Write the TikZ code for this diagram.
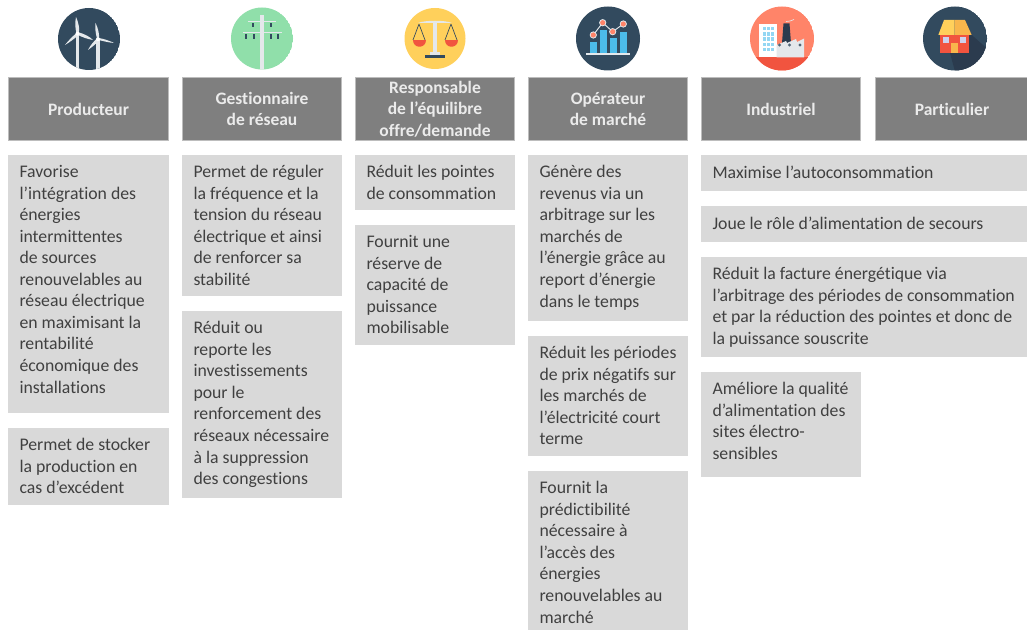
\documentclass[tikz,border=0pt]{standalone}
\usepackage{fontspec}
\setmainfont{Carlito}[Ligatures=NoCommon]
\newlength{\pxl}\setlength{\pxl}{0.75pt}
\definecolor{txt}{HTML}{404040}
\definecolor{cellbg}{HTML}{D9D9D9}
\definecolor{headbg}{HTML}{7F7F7F}
\definecolor{headln}{HTML}{BDBDBD}
\definecolor{navy}{HTML}{324A5E}
\definecolor{navyd}{HTML}{2B3B4E}
\definecolor{pale}{HTML}{E4E8EB}
\definecolor{mint}{HTML}{90DFAA}
\definecolor{sun}{HTML}{FFD05B}
\definecolor{redd}{HTML}{F1543F}
\definecolor{sal}{HTML}{FF8469}
\definecolor{skyb}{HTML}{4CBCEA}
\definecolor{amber}{HTML}{F8B64C}
\newcommand{\cellbody}[3]{\parbox[c][#2\pxl][t]{\dimexpr#1\pxl-23\pxl\relax}{\fontsize{13.3pt}{16.15pt}\selectfont\raggedright\vspace{10.5\pxl}#3}}
\tikzset{
  cellbox/.style={fill=cellbg,text=txt,anchor=north west,inner xsep=11.5\pxl,inner ysep=0pt,outer sep=0pt,draw=none},
  headbox/.style={fill=headbg,draw=headln,line width=0.7pt,text=white!92!black,anchor=north west,inner sep=0pt,outer sep=0pt,
    align=center,font=\fontsize{13.1pt}{16.15pt}\selectfont\bfseries,minimum height=63\pxl},
  pole/.style={pale,line width=2.6pt},
  blade/.style={fill=pale,draw=none},
}
\begin{document}
\begin{tikzpicture}[x=0.75pt,y=-0.75pt]
\useasboundingbox (0,0) rectangle (1027,630);
\fill[white] (0,0) rectangle (1027,630);

% ---------- headers
\node[headbox,minimum width=160\pxl] (h1) at (8.5,77.5) {Producteur};
\node[headbox,minimum width=159\pxl] (h2) at (182.5,77.5) {Gestionnaire\\de réseau};
\node[headbox,minimum width=159\pxl] (h3) at (355.5,77.5) {Responsable\\de l’équilibre\\offre/demande};
\node[headbox,minimum width=159\pxl] (h4) at (528.5,77.5) {Opérateur\\de marché};
\node[headbox,minimum width=159\pxl] (h5) at (701.5,77.5) {Industriel};
\node[headbox,minimum width=153\pxl] (h6) at (875.5,77.5) {Particulier};

% ---------- cells
\node[cellbox] (a1) at (8,155) {\cellbody{161}{258}{Favorise\\l’intégration des\\énergies\\intermittentes\\de sources\\renouvelables au\\réseau électrique\\en maximisant la\\rentabilité\\économique des\\installations}};
\node[cellbox] (a2) at (8,428) {\cellbody{161}{77}{Permet de stocker\\la production en\\cas d’excédent}};

\node[cellbox] (b1) at (182,155) {\cellbody{160}{141}{Permet de réguler\\la fréquence et la\\tension du réseau\\électrique et ainsi\\de renforcer sa\\stabilité}};
\node[cellbox] (b2) at (182,311) {\cellbody{160}{187}{Réduit ou\\reporte les\\investissements\\pour le\\renforcement des\\réseaux nécessaire\\à la suppression\\des congestions}};

\node[cellbox] (c1) at (355,155) {\cellbody{160}{55}{Réduit les pointes\\de consommation}};
\node[cellbox] (c2) at (355,225) {\cellbody{160}{120}{Fournit une\\réserve de\\capacité de\\puissance\\mobilisable}};

\node[cellbox] (d1) at (528,155) {\cellbody{160}{166}{Génère des\\revenus via un\\arbitrage sur les\\marchés de\\l’énergie grâce au\\report d’énergie\\dans le temps}};
\node[cellbox] (d2) at (528,336) {\cellbody{160}{120}{Réduit les périodes\\de prix négatifs sur\\les marchés de\\l’électricité court\\terme}};
\node[cellbox] (d3) at (528,471) {\cellbody{160}{159}{Fournit la\\prédictibilité\\nécessaire à\\l’accès des\\énergies\\renouvelables au\\marché}};

\node[cellbox] (e1) at (701,155) {\cellbody{326}{36}{Maximise l’autoconsommation}};
\node[cellbox] (e2) at (701,206) {\cellbody{326}{36}{Joue le rôle d’alimentation de secours}};
\node[cellbox] (e3) at (701,257) {\cellbody{326}{100}{Réduit la facture énergétique via\\l’arbitrage des périodes de consommation\\et par la réduction des pointes et donc de\\la puissance souscrite}};
\node[cellbox] (e4) at (701,372) {\cellbody{160}{105}{Améliore la qualité\\d’alimentation des\\sites électro-\\sensibles}};

% ---------- icon 1: wind turbines
\begin{scope}
\clip (89,39) circle[radius=31];
\fill[navy] (89,39) circle[radius=31];
\draw[pole] (77.5,34) -- (77.5,72);
\draw[pole] (98,40) -- (98,72);
\fill[blade] (76,17) .. controls (79,24) and (80,30) .. (78.5,33) -- (76.5,33) .. controls (75,28) and (75,22) .. (76,17) -- cycle;
\fill[blade] (93,40) .. controls (87,39) and (82,37) .. (78,35) -- (79,32.5) .. controls (84,34) and (89,36) .. (93,40) -- cycle;
\fill[blade] (65,45) .. controls (68,41) and (72,37) .. (76.5,33) -- (78.5,35) .. controls (74,39) and (70,42) .. (65,45) -- cycle;
\fill[blade] (95.5,23) .. controls (98,28) and (99.5,34) .. (99,38.5) -- (97,38.5) .. controls (95.5,33) and (95,28) .. (95.5,23) -- cycle;
\fill[blade] (114,43) .. controls (108,42.5) and (103,41) .. (98.5,40) -- (99,38) .. controls (104,39) and (109,40.5) .. (114,43) -- cycle;
\fill[blade] (88,50) .. controls (90,46) and (93,42) .. (97,38.5) -- (99,40.5) .. controls (96,44) and (92,47) .. (88,50) -- cycle;
\fill[white] (77.5,33.7) circle[radius=2];
\fill[white] (98,39.3) circle[radius=2];
\end{scope}

% ---------- icon 2: power pole
\begin{scope}
\clip (262,38.5) circle[radius=31];
\fill[mint] (262,38.5) circle[radius=31];
\draw[pole,line width=3.2pt] (262,15) -- (262,72);
\draw[pale,line width=1.2pt] (248,21.5) -- (276,21.5);
\draw[pale,line width=1.2pt] (243,32.5) -- (282,32.5);
\foreach \px/\py in {253/25,271/25,246/36.5,254/36.5,271/36.5,278/36.5}
  \fill[navy] (\px-1.2,\py-2.3) rectangle (\px+1.2,\py+2.3);
\end{scope}

% ---------- icon 3: scales
\fill[sun] (435,38.5) circle[radius=30.5];
\draw[navy,line width=0.5pt] (419,24) -- (413,40) (419,24) -- (425,40) (451,24) -- (445,40) (451,24) -- (457,40);
\fill[pale] (418,23) .. controls (425,20) and (445,20) .. (452,23) -- cycle;
\fill[pale] (433,21) rectangle (437,52);
\fill[redd] (412.5,40) .. controls (412.5,49.5) and (425.5,49.5) .. (425.5,40) -- cycle;
\fill[redd] (444.5,40) .. controls (444.5,49.5) and (457.5,49.5) .. (457.5,40) -- cycle;
\fill[pale] (430,52) rectangle (440,55);
\fill[navy] (425,55) rectangle (445,58.5);

% ---------- icon 4: market chart
\fill[navy] (608,38.5) circle[radius=32];
\foreach \bx/\by in {590/42.3,600/30,610/38,620/32}
  \fill[skyb] (\bx,\by) rectangle (\bx+7.3,53);
\fill[pale] (586,53.2) rectangle (630,55);
\draw[pale,line width=0.7pt] (593.3,35) coordinate (p1) -- (602.7,22.7) coordinate (p2) -- (612.7,31.7) coordinate (p3) -- (623.3,24) coordinate (p4);
\foreach \pt in {p1,p2,p3,p4}{
  \fill[pale] (\pt) circle[radius=3.6];
  \fill[sal] (\pt) circle[radius=2.6];
}

% ---------- icon 5: factory
\begin{scope}
\clip (782,38.5) circle[radius=32];
\fill[sal] (782,38.5) circle[radius=32];
\fill[redd] (745,57.5) rectangle (820,75);
\fill[navyd] (783.5,23.5) -- (789.5,23.5) -- (791,43) -- (782,43) -- cycle;
\fill[white] (759.3,24) rectangle (776.7,57.5);
\foreach \wx in {762.5,766.7,770.9}
  \foreach \wy in {27,32.2,37.4,42.6,47.8}
    \fill[skyb!60!white] (\wx,\wy) rectangle (\wx+3,\wy+3.4);
\fill[pale] (776.7,57.5) -- (776.7,45) -- (786,41) -- (787,43) -- (796,39) -- (797,42) -- (804,38.5) -- (804,57.5) -- cycle;
\foreach \hx in {779.5,789.5,800}
  \fill[navy!85!white] (\hx,45) circle[radius=1.7];
\draw[pale,line width=0.5pt] (786,21.5) -- (790,21) -- (794,19.5);
\end{scope}

% ---------- icon 6: house
\begin{scope}
\clip (955,38.5) circle[radius=32];
\fill[navy] (955,38.5) circle[radius=32];
\fill[navyd] (965,20) -- (971.7,35) -- (1000,60) -- (1000,90) -- (960,90) -- (950,53) -- cycle;
\end{scope}
\fill[redd] (940,35) rectangle (969.3,53.3);
\fill[sun] (944,20) -- (954.7,20) -- (954.7,35) -- (938.3,35) -- cycle;
\fill[amber] (954.7,20) -- (965,20) -- (971.7,35) -- (954.7,35) -- cycle;
\fill[pale!90!blue] (943.3,37.3) rectangle (949.3,43.3);
\fill[pale!90!blue] (960,37.3) rectangle (966,43.3);
\fill[amber] (950.7,42.7) rectangle (958.3,53.3);
\end{tikzpicture}
\end{document}
